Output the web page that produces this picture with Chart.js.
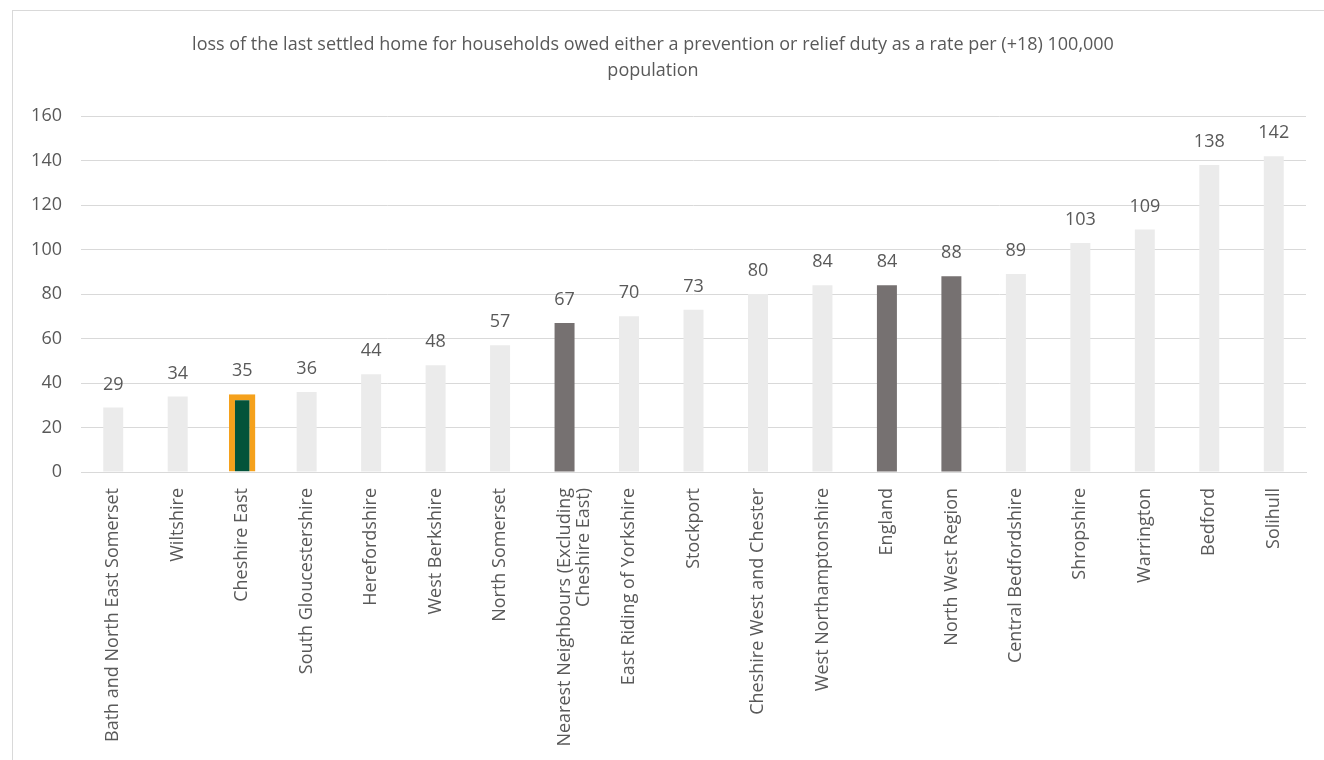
<!DOCTYPE html>
<html>
<head>
<meta charset="utf-8">
<script src="https://cdn.jsdelivr.net/npm/chart.js@4"></script>
<style>
  html, body { margin:0; padding:0; background:#fff; }
  #frame { position:absolute; left:12px; top:10px; width:1330px; height:760px; border:1px solid #d9d9d9; box-sizing:border-box; }
  #wrap { position:absolute; left:0; top:0; width:1324px; height:760px; }
</style>
</head>
<body>
<div id="frame"></div>
<div id="wrap"><canvas id="chart"></canvas></div>
<script>
const categories = [
  "Bath and North East Somerset", "Wiltshire", "Cheshire East", "South Gloucestershire",
  "Herefordshire", "West Berkshire", "North Somerset",
  ["Nearest Neighbours (Excluding", "Cheshire East)"],
  "East Riding of Yorkshire", "Stockport", "Cheshire West and Chester", "West Northamptonshire",
  "England", "North West Region", "Central Bedfordshire", "Shropshire", "Warrington", "Bedford", "Solihull"
];
const values = [29, 34, 35, 36, 44, 48, 57, 67, 70, 73, 80, 84, 84, 88, 89, 103, 109, 138, 142];
// which bar gets which look: 0 = local authority, 1 = comparator, 2 = Cheshire East
const kinds = [0, 0, 2, 0, 0, 0, 0, 1, 0, 0, 0, 0, 1, 1, 0, 0, 0, 0, 0];
const yTicks = [0, 20, 40, 60, 80, 100, 120, 140, 160];

const TXT = "#595959";
const FONT = "'Open Sans', 'Liberation Sans', sans-serif";
const fill = { 0: "#ebebeb", 1: "#767171" };

const mainData = values.map((v, i) => kinds[i] === 2 ? null : v);
const hiData = values.map((v, i) => kinds[i] === 2 ? v : null);

// labels above each bar
const valueLabels = {
  id: "valueLabels",
  afterDatasetsDraw(c){
    const ctx = c.ctx;
    ctx.save();
    ctx.font = "18px " + FONT;
    ctx.fillStyle = TXT;
    ctx.textAlign = "center";
    ctx.textBaseline = "middle";
    c.data.datasets.forEach((ds, di) => {
      const meta = c.getDatasetMeta(di);
      meta.data.forEach((bar, i) => {
        if (ds.data[i] == null) return;
        ctx.fillText(String(values[i]), bar.x, bar.y - 23);
      });
    });
    ctx.restore();
  }
};

new Chart(document.getElementById("chart"), {
  type: "bar",
  data: {
    labels: categories,
    datasets: [
      {
        data: mainData,
        backgroundColor: kinds.map(k => fill[k] || "#ebebeb"),
        borderWidth: 0,
        barPercentage: 0.31,
        categoryPercentage: 1
      },
      {
        data: hiData,
        backgroundColor: "#03533a",
        borderColor: "#f5a11c",
        borderWidth: 6,
        barPercentage: 0.41,
        categoryPercentage: 1
      }
    ]
  },
  options: {
    responsive: true,
    maintainAspectRatio: false,
    animation: false,
    grouped: false,
    layout: { padding: { left: 0, right: 18, top: 0, bottom: 0 } },
    plugins: {
      legend: { display: false },
      tooltip: { enabled: false },
      title: {
        display: true,
        text: ["loss of the last settled home for households owed either a prevention or relief duty as a rate per (+18) 100,000", "population"],
        color: TXT,
        font: { family: FONT, size: 18, weight: "normal", lineHeight: 1.45 },
        padding: { top: 32, bottom: 32 }
      }
    },
    scales: {
      x: {
        grid: { display: false },
        border: { color: "#d9d9d9", width: 1 },
        ticks: {
          color: TXT,
          font: { family: FONT, size: 18, lineHeight: 1.1 },
          minRotation: 90, maxRotation: 90,
          autoSkip: false,
          padding: 8
        },
        afterFit(scale){ scale.height = 760 - 472; }
      },
      y: {
        min: 0, max: 160,
        afterBuildTicks(scale){ scale.ticks = yTicks.map(v => ({ value: v })); },
        grid: { color: "#d9d9d9", lineWidth: 1, drawTicks: false },
        border: { display: false },
        ticks: { color: TXT, font: { family: FONT, size: 18 }, padding: 19 },
        afterFit(scale){ scale.width = 81; }
      }
    }
  },
  plugins: [valueLabels]
});
</script>
</body>
</html>
